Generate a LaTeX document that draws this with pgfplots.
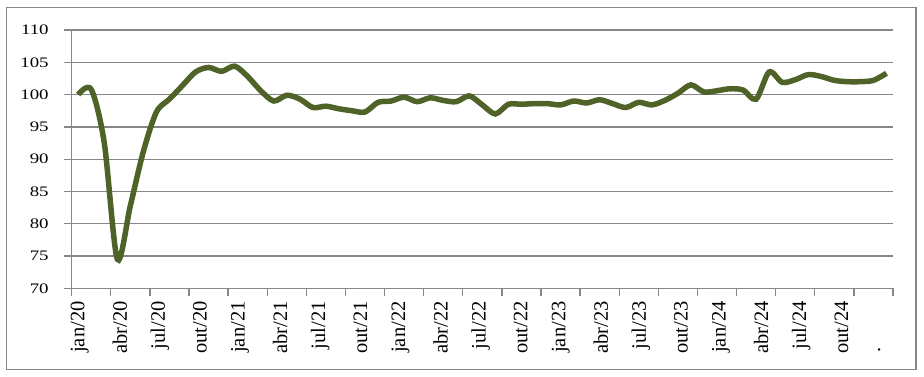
\documentclass[border=0pt]{standalone}
\usepackage{fontspec}
\setmainfont{Liberation Serif}
\usepackage{pgfplots}
\pgfplotsset{compat=1.18}
\definecolor{lineg}{RGB}{79,98,40}
\definecolor{gridg}{RGB}{134,134,134}
\begin{document}
\begin{tikzpicture}
\begin{axis}[name=ax, at={(0,0)}, anchor=south west,
 scale only axis, width=821.3pt, height=258.3pt,
 xmin=-0.5, xmax=62.5, ymin=70, ymax=110,
 axis lines*=left, axis line style={gridg, line width=1.3pt},
 ytick={70,75,...,110}, ymajorgrids, grid style={gridg, line width=1.3pt},
 xtick={-0.5,2.5,...,62.5}, xticklabels={},
 tick align=outside, major tick length=7.5pt, tick style={gridg, line width=1.3pt},
 extra x ticks={0.115,3.19,6.265,9.34,12.415,15.49,18.565,21.64,24.715,27.79,30.865,33.94,37.015,40.09,43.165,46.24,49.315,52.39,55.465,58.54,61.0},
 extra x tick labels={jan/20,abr/20,jul/20,out/20,jan/21,abr/21,jul/21,out/21,jan/22,abr/22,jul/22,out/22,jan/23,abr/23,jul/23,out/23,jan/24,abr/24,jul/24,out/24,{.\phantom{an/25}}},
 extra x tick style={major tick length=0pt, xmajorgrids=false, xticklabel shift=13pt, xticklabel style={rotate=90, anchor=east, inner sep=0pt, font=\fontsize{20.5}{22}\selectfont}},
 yticklabel shift=11pt,
 yticklabel style={font=\fontsize{14.5}{16}\selectfont, xscale=1.3},
 /pgf/number format/assume math mode=true,
 clip=false,
]
\addplot[lineg, line width=5.5pt, smooth, tension=0.5] coordinates {
(0,100.0) (1,100.8) (2,92.5) (3,74.5) (4,82.8) (5,91.2) (6,97.3) (7,99.3) (8,101.4) (9,103.5)
(10,104.2) (11,103.6) (12,104.4) (13,102.8) (14,100.6) (15,99.0) (16,99.9) (17,99.3) (18,98.0) (19,98.2)
(20,97.8) (21,97.5) (22,97.3) (23,98.8) (24,99.0) (25,99.6) (26,98.9) (27,99.5) (28,99.1) (29,98.9)
(30,99.8) (31,98.4) (32,97.0) (33,98.5) (34,98.5) (35,98.6) (36,98.6) (37,98.4) (38,99.0) (39,98.7)
(40,99.2) (41,98.6) (42,98.0) (43,98.8) (44,98.4) (45,99.1) (46,100.2) (47,101.5) (48,100.4) (49,100.6)
(50,100.9) (51,100.7) (52,99.3) (53,103.5) (54,101.9) (55,102.3) (56,103.1) (57,102.8) (58,102.2) (59,102.0)
(60,102.0) (61,102.2) (62,103.3)
};
\end{axis}
\draw[gridg, line width=1.3pt] ([shift={(-65pt,-81pt)}]ax.south west) rectangle ([shift={(844.3pt,281pt)}]ax.south west);
\pgfresetboundingbox
\path ([shift={(-71.7pt,-87.7pt)}]ax.south west) rectangle ([shift={(852.3pt,288.3pt)}]ax.south west);
\end{tikzpicture}
\end{document}
